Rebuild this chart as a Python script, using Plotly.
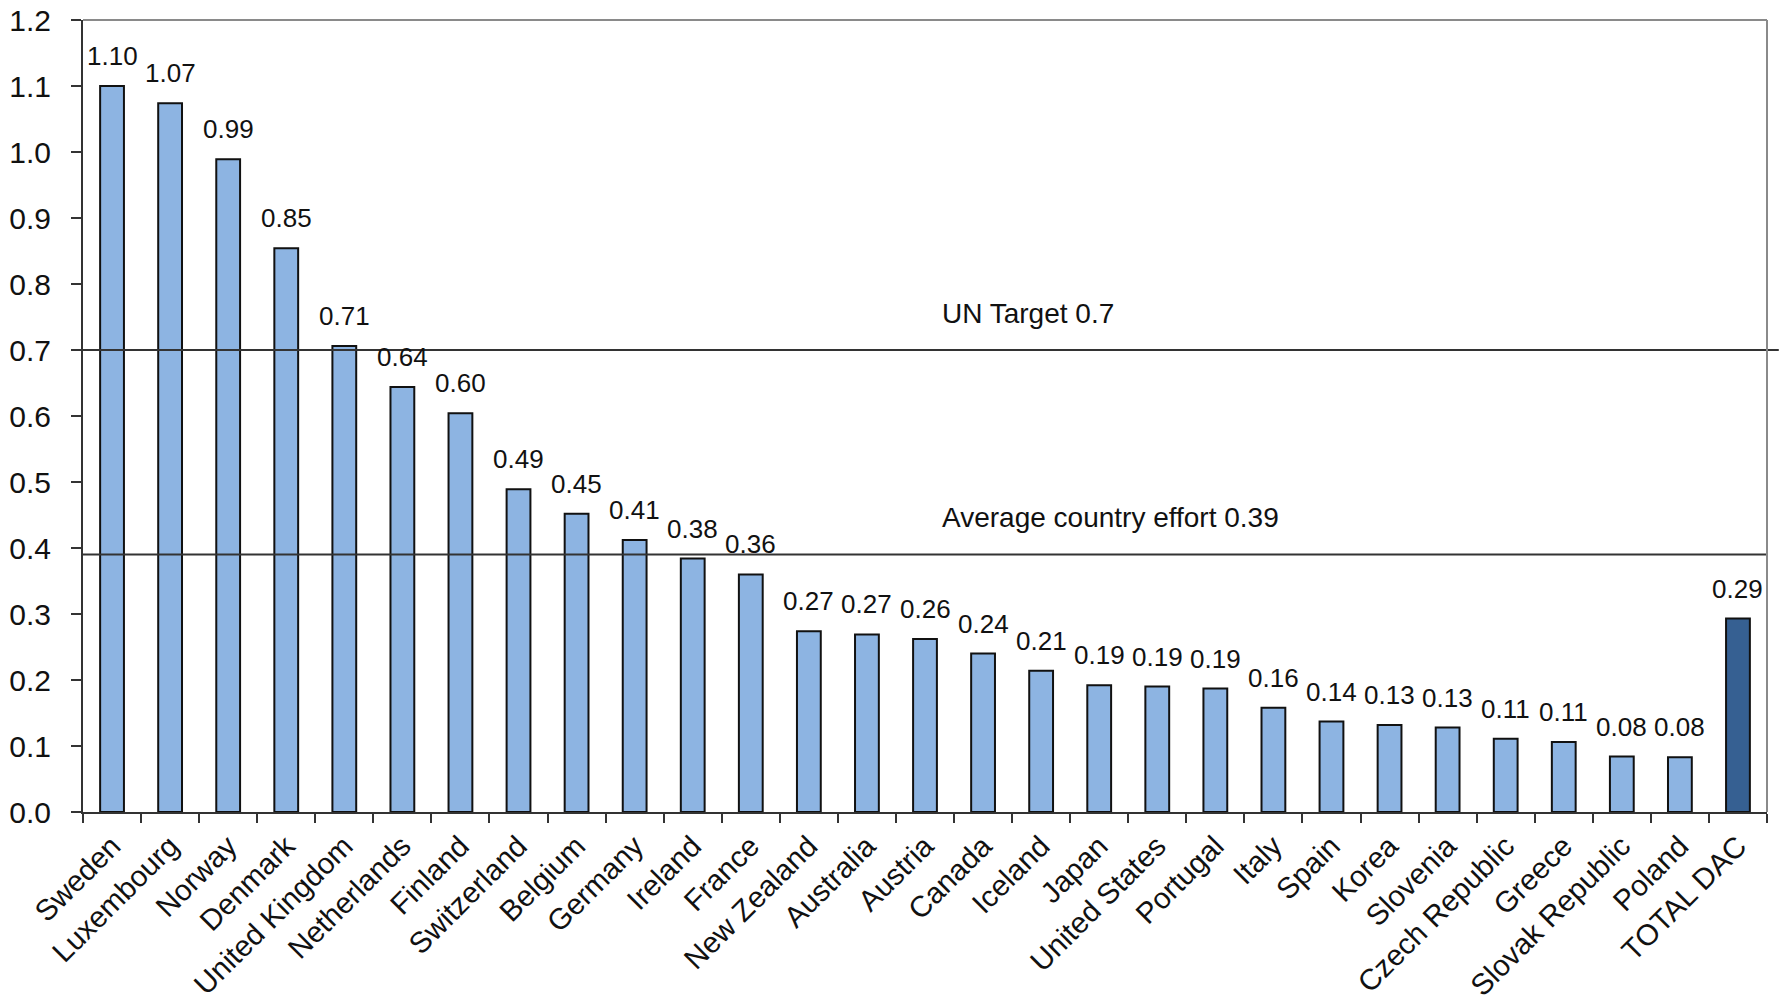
import plotly.graph_objects as go

countries = ["Sweden", "Luxembourg", "Norway", "Denmark", "United Kingdom", "Netherlands",
             "Finland", "Switzerland", "Belgium", "Germany", "Ireland", "France",
             "New Zealand", "Australia", "Austria", "Canada", "Iceland", "Japan",
             "United States", "Portugal", "Italy", "Spain", "Korea", "Slovenia",
             "Czech Republic", "Greece", "Slovak Republic", "Poland", "TOTAL DAC"]
values = [1.10, 1.074, 0.989, 0.854, 0.706, 0.644, 0.604, 0.489, 0.452, 0.412, 0.384, 0.36,
          0.274, 0.269, 0.262, 0.24, 0.214, 0.192, 0.19, 0.187, 0.158, 0.137, 0.132, 0.128,
          0.111, 0.106, 0.084, 0.083, 0.293]
un_target = 0.7
average_effort = 0.39
y_ticks = [0.0, 0.1, 0.2, 0.3, 0.4, 0.5, 0.6, 0.7, 0.8, 0.9, 1.0, 1.1, 1.2]

FONT = "Liberation Sans, Arial, sans-serif"
light = "#8DB4E2"
dark = "#366092"
colors = [dark if c == "TOTAL DAC" else light for c in countries]

fig = go.Figure()
fig.add_trace(go.Bar(
    x=countries, y=values,
    marker=dict(color=colors, line=dict(color="#111111", width=2)),
    width=0.41,
    hoverinfo="x+y",
))

annotations = []
for c, v in zip(countries, values):
    annotations.append(dict(
        x=c, y=v, xref="x", yref="y", text=f"{v:.2f}", showarrow=False,
        yanchor="middle", xanchor="center", yshift=30,
        font=dict(family=FONT, size=26, color="#111111"),
    ))
annotations.append(dict(
    x=0.509, y=un_target, xref="paper", yref="y", text=f"UN Target {un_target}",
    showarrow=False, xanchor="left", yanchor="middle", yshift=37,
    font=dict(family=FONT, size=28, color="#111111"),
))
annotations.append(dict(
    x=0.509, y=average_effort, xref="paper", yref="y",
    text=f"Average country effort {average_effort}",
    showarrow=False, xanchor="left", yanchor="middle", yshift=37,
    font=dict(family=FONT, size=28, color="#111111"),
))

shapes = [
    dict(type="line", xref="paper", yref="y", x0=0, x1=1.007, y0=un_target, y1=un_target,
         line=dict(color="#333333", width=2)),
    dict(type="line", xref="paper", yref="y", x0=0, x1=1, y0=average_effort, y1=average_effort,
         line=dict(color="#333333", width=2)),
    dict(type="line", xref="paper", yref="paper", x0=0, x1=1, y0=1, y1=1,
         line=dict(color="#8a8a8a", width=2)),
    dict(type="line", xref="paper", yref="paper", x0=1, x1=1, y0=0, y1=1,
         line=dict(color="#8a8a8a", width=2)),
]

fig.update_layout(
    width=1779, height=1008,
    margin=dict(l=83, r=12, t=20, b=196, autoexpand=False),
    paper_bgcolor="white", plot_bgcolor="white",
    showlegend=False,
    annotations=annotations, shapes=shapes,
    font=dict(family=FONT, size=26, color="#111111"),
    xaxis=dict(
        type="category", tickangle=-45, tickson="boundaries",
        ticks="outside", ticklen=9, tickwidth=2, tickcolor="#333333",
        showline=True, linecolor="#333333", linewidth=2,
        showgrid=False, tickfont=dict(family=FONT, size=29.5, color="#111111"),
        ticklabelstandoff=3, automargin=False,
        range=[-0.5, len(countries) - 0.5],
    ),
    yaxis=dict(
        range=[0, 1.2], tickvals=y_ticks, tickformat=".1f",
        ticks="outside", ticklen=10, tickwidth=2, tickcolor="#333333",
        showline=True, linecolor="#333333", linewidth=2,
        showgrid=False, zeroline=False, ticklabelstandoff=14, automargin=False,
        tickfont=dict(family=FONT, size=30, color="#111111"),
    ),
)

fig.write_html("out.html", config={"displayModeBar": False},
               post_script="document.body.style.margin='0';")
